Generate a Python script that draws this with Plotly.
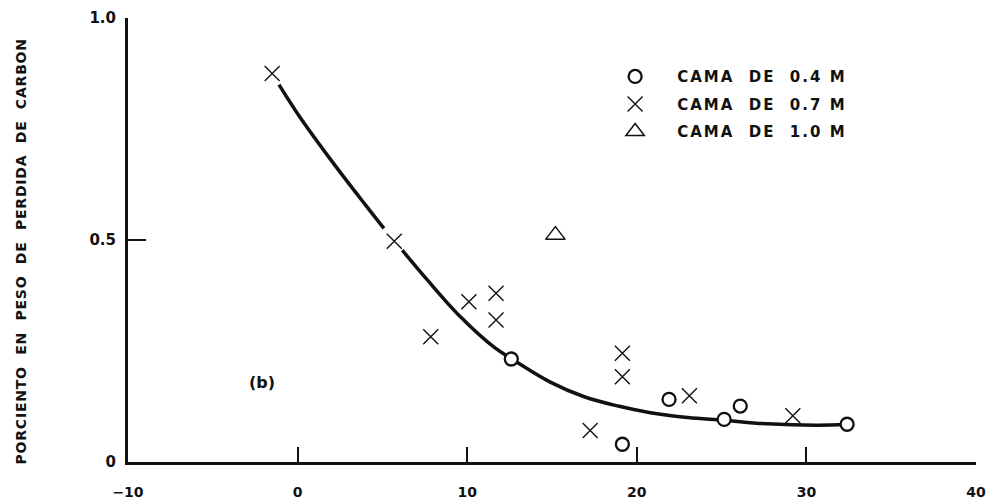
import plotly.graph_objects as go

# ---- data ----
x_04 = [12.6, 19.15, 21.9, 25.15, 26.1, 32.4]
y_04 = [0.232, 0.040, 0.141, 0.096, 0.126, 0.085]

x_07 = [-1.5, 5.7, 7.85, 10.1, 11.7, 11.7, 17.25, 19.15, 19.15, 23.1, 29.2]
y_07 = [0.875, 0.497, 0.282, 0.361, 0.380, 0.320, 0.071, 0.245, 0.192, 0.149, 0.104]

x_10 = [15.2]
y_10 = [0.511]

curve_x = [-1.1, 0.08, 2.05, 4.0, 5.09, None, 6.17, 7.65, 9.6, 11.6, 12.6, 14.9, 16.9, 18.9, 20.8, 23.0, 25.15, 27.7, 30.7, 32.4]
curve_y = [0.850, 0.780, 0.676, 0.579, 0.526, None, 0.477, 0.410, 0.327, 0.258, 0.233, 0.180, 0.147, 0.126, 0.111, 0.100, 0.094, 0.086, 0.083, 0.085]

x_ticks = [-10, 0, 10, 20, 30, 40]
y_ticks = [0, 0.5, 1.0]
y_tick_text = ["0", "0.5", "1.0"]

names = ["CAMA DE 0.4 M", "CAMA DE 0.7 M", "CAMA DE 1.0 M"]
y_title = "PORCIENTO EN PESO DE PERDIDA DE CARBON"

FONT = "DejaVu Sans"
INK = "#111111"


def spaced(txt, ls, gap=1, tail=0):
    words = txt.split(" ")
    joined = ("\u00a0" * gap).join(words) + "\u00a0" * tail
    return f'<span style="letter-spacing:{ls}px">{joined}</span>'


def legend_name(txt):
    # wide gaps between the words, narrow gap before the unit
    head, unit = txt.rsplit(" ", 1)
    words = head.split(" ")
    return '<span style="letter-spacing:2px">' + "\u00a0\u00a0".join(words) + "\u00a0" + unit + "</span>"


fig = go.Figure()

fig.add_trace(go.Scatter(
    x=curve_x, y=curve_y, mode="lines", line=dict(color=INK, width=3.5, shape="spline", smoothing=1.0),
    connectgaps=False, showlegend=False, hoverinfo="skip"))

fig.add_trace(go.Scatter(
    x=x_04, y=y_04, mode="markers", name=legend_name(names[0]), legendgroup="a",
    marker=dict(symbol="circle", size=13, color="white", line=dict(color=INK, width=2.3))))
fig.add_trace(go.Scatter(
    x=x_07, y=y_07, mode="markers", name=legend_name(names[1]), legendgroup="b",
    marker=dict(symbol="x-thin-open", size=15, color=INK, line=dict(color=INK, width=1.4))))
fig.add_trace(go.Scatter(
    x=x_10, y=y_10, mode="markers", name=legend_name(names[2]), legendgroup="c",
    marker=dict(symbol="triangle-up-open", size=17, color=INK, line=dict(color=INK, width=1.5))))

fig.add_annotation(x=-2.1, y=0.18, xref="x", yref="y", text="<b>(b)</b>", showarrow=False,
                   font=dict(family=FONT, size=16, color=INK))

fig.update_layout(
    width=992, height=500,
    margin=dict(l=128, r=16, t=18, b=38, autoexpand=False),
    paper_bgcolor="white", plot_bgcolor="white",
    font=dict(family=FONT, color=INK),
    showlegend=True,
    legend=dict(x=0.5485, y=0.905, xanchor="left", yanchor="top", bgcolor="rgba(0,0,0,0)",
                itemwidth=74, tracegroupgap=5, font=dict(family=FONT, size=15, weight="bold", color=INK)),
    xaxis=dict(range=[-10, 40], tickvals=x_ticks, ticks="inside", ticklen=15, tickwidth=1.6,
               tickcolor=INK, showline=True, linewidth=3, linecolor=INK, showgrid=False,
               zeroline=False, ticklabelstandoff=15, automargin=False,
               tickfont=dict(family=FONT, size=14, weight="bold", color=INK)),
    yaxis=dict(range=[0, 1.0], tickvals=y_ticks, ticktext=y_tick_text, ticks="inside", ticklen=18,
               tickwidth=1.6, tickcolor=INK, showline=True, linewidth=3, linecolor=INK,
               showgrid=False, zeroline=False, ticklabelstandoff=6, automargin=False,
               tickfont=dict(family=FONT, size=15, weight="bold", color=INK),
               title=dict(text=spaced(y_title, 0.8, gap=2, tail=4), standoff=60,
                          font=dict(family=FONT, size=14, weight="bold", color=INK))),
)

fig.write_html("out.html")
